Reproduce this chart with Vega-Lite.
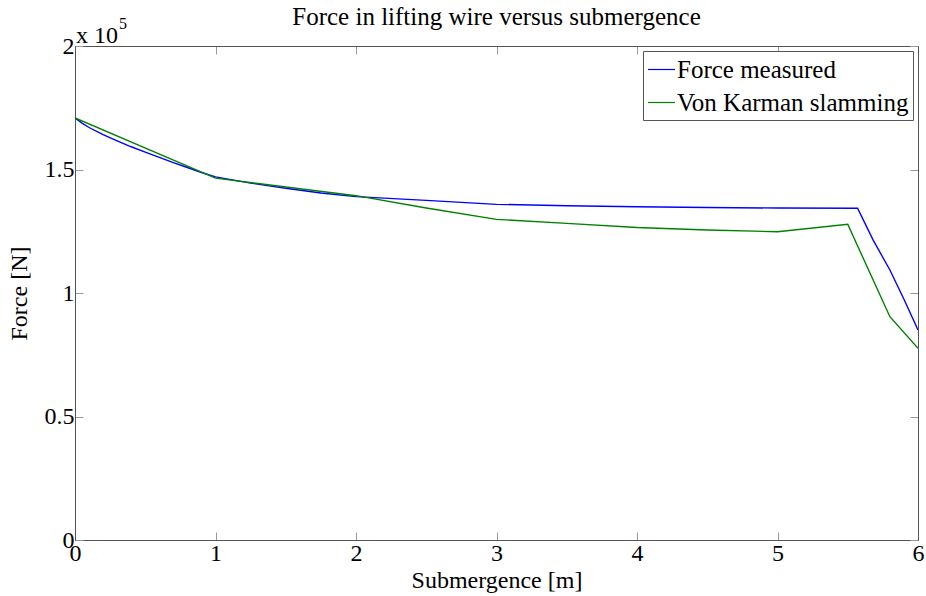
{
  "$schema": "https://vega.github.io/schema/vega-lite/v6.json",
  "autosize": {"type": "none"},
  "width": 843,
  "height": 494,
  "padding": {"left": 75, "top": 46, "right": 8, "bottom": 56},
  "background": "white",
  "title": {"text": "Force in lifting wire versus submergence", "font": "Liberation Serif", "fontSize": 25, "fontWeight": "normal", "color": "black", "anchor": "middle", "offset": -14},
  "config": {
    "view": {"stroke": "#555", "strokeWidth": 1},
    "font": "Liberation Serif",
    "axis": {"grid": false, "domainColor": "#555", "tickColor": "#999", "tickSize": -8, "labelFont": "Liberation Serif", "labelFontSize": 24, "labelColor": "black", "titleFont": "Liberation Serif", "titleFontSize": 24, "titleFontWeight": "normal", "titleColor": "black", "labelFlush": false}
  },
  "data": {"values": [
    {"x": 0, "force": 170900, "series": "Force measured"},
    {"x": 0.05, "force": 168800, "series": "Force measured"},
    {"x": 0.1, "force": 167000, "series": "Force measured"},
    {"x": 0.2, "force": 164100, "series": "Force measured"},
    {"x": 0.3, "force": 161600, "series": "Force measured"},
    {"x": 0.4, "force": 159200, "series": "Force measured"},
    {"x": 0.5, "force": 157000, "series": "Force measured"},
    {"x": 0.6, "force": 154900, "series": "Force measured"},
    {"x": 0.7, "force": 152800, "series": "Force measured"},
    {"x": 0.8, "force": 150800, "series": "Force measured"},
    {"x": 0.9, "force": 148800, "series": "Force measured"},
    {"x": 1, "force": 147000, "series": "Force measured"},
    {"x": 1.25, "force": 144500, "series": "Force measured"},
    {"x": 1.5, "force": 142400, "series": "Force measured"},
    {"x": 1.75, "force": 140500, "series": "Force measured"},
    {"x": 2, "force": 139000, "series": "Force measured"},
    {"x": 2.5, "force": 137500, "series": "Force measured"},
    {"x": 3, "force": 135900, "series": "Force measured"},
    {"x": 3.5, "force": 135300, "series": "Force measured"},
    {"x": 4, "force": 134900, "series": "Force measured"},
    {"x": 4.5, "force": 134600, "series": "Force measured"},
    {"x": 5, "force": 134400, "series": "Force measured"},
    {"x": 5.57, "force": 134300, "series": "Force measured"},
    {"x": 5.68, "force": 121500, "series": "Force measured"},
    {"x": 5.8, "force": 109300, "series": "Force measured"},
    {"x": 5.9, "force": 97500, "series": "Force measured"},
    {"x": 6, "force": 85000, "series": "Force measured"},
    {"x": 0, "force": 170900, "series": "Von Karman slamming"},
    {"x": 1, "force": 146500, "series": "Von Karman slamming"},
    {"x": 2, "force": 139400, "series": "Von Karman slamming"},
    {"x": 2.5, "force": 134400, "series": "Von Karman slamming"},
    {"x": 3, "force": 129800, "series": "Von Karman slamming"},
    {"x": 3.5, "force": 128200, "series": "Von Karman slamming"},
    {"x": 4, "force": 126500, "series": "Von Karman slamming"},
    {"x": 4.5, "force": 125500, "series": "Von Karman slamming"},
    {"x": 5, "force": 124800, "series": "Von Karman slamming"},
    {"x": 5.5, "force": 127800, "series": "Von Karman slamming"},
    {"x": 5.8, "force": 90400, "series": "Von Karman slamming"},
    {"x": 6, "force": 77600, "series": "Von Karman slamming"}
  ]},
  "resolve": {"axis": {"x": "independent", "y": "independent"}},
  "layer": [
    {
      "mark": {"type": "line", "strokeWidth": 1.4, "clip": true},
      "encoding": {
        "x": {"field": "x", "type": "quantitative", "scale": {"domain": [0, 6], "nice": false, "zero": false},
              "axis": {"orient": "bottom", "values": [0, 1, 2, 3, 4, 5, 6], "title": "Submergence [m]", "labelPadding": 9, "titlePadding": 3}},
        "y": {"field": "force", "type": "quantitative", "scale": {"domain": [0, 200000], "nice": false},
              "axis": {"orient": "left", "values": [0, 50000, 100000, 150000, 200000], "labelExpr": "datum.value / 100000", "title": "Force [N]", "labelPadding": 9, "titlePadding": 13}},
        "color": {"field": "series", "type": "nominal",
                  "scale": {"domain": ["Force measured", "Von Karman slamming"], "range": ["#0000ff", "#008000"]},
                  "legend": {"title": null, "orient": "top-right", "offset": 5, "strokeColor": "#555", "fillColor": "white", "padding": 4, "labelFont": "Liberation Serif", "labelFontSize": 25, "labelColor": "black", "labelLimit": 400, "symbolType": "stroke", "symbolSize": 729, "symbolStrokeWidth": 1.2, "rowPadding": 5, "labelOffset": 1, "cornerRadius": 0}}
      }
    },
    {
      "mark": {"type": "line", "opacity": 0},
      "encoding": {
        "x": {"field": "x", "type": "quantitative", "axis": {"orient": "top", "values": [0, 1, 2, 3, 4, 5, 6], "labels": false, "title": null}},
        "y": {"field": "force", "type": "quantitative", "axis": {"orient": "right", "values": [0, 50000, 100000, 150000, 200000], "labels": false, "title": null}},
        "detail": {"field": "series"}
      }
    },
    {
      "data": {"values": [{"label": "x 10"}]},
      "mark": {"type": "text", "align": "left", "baseline": "alphabetic", "fontSize": 24, "font": "Liberation Serif", "dx": 1, "dy": -3, "color": "black"},
      "encoding": {
        "x": {"datum": 0, "type": "quantitative", "axis": null},
        "y": {"datum": 200000, "type": "quantitative", "axis": null},
        "text": {"field": "label"}
      }
    },
    {
      "data": {"values": [{"label": "5"}]},
      "mark": {"type": "text", "align": "left", "baseline": "alphabetic", "fontSize": 16, "font": "Liberation Serif", "dx": 44, "dy": -17, "color": "black"},
      "encoding": {
        "x": {"datum": 0, "type": "quantitative", "axis": null},
        "y": {"datum": 200000, "type": "quantitative", "axis": null},
        "text": {"field": "label"}
      }
    }
  ]
}
